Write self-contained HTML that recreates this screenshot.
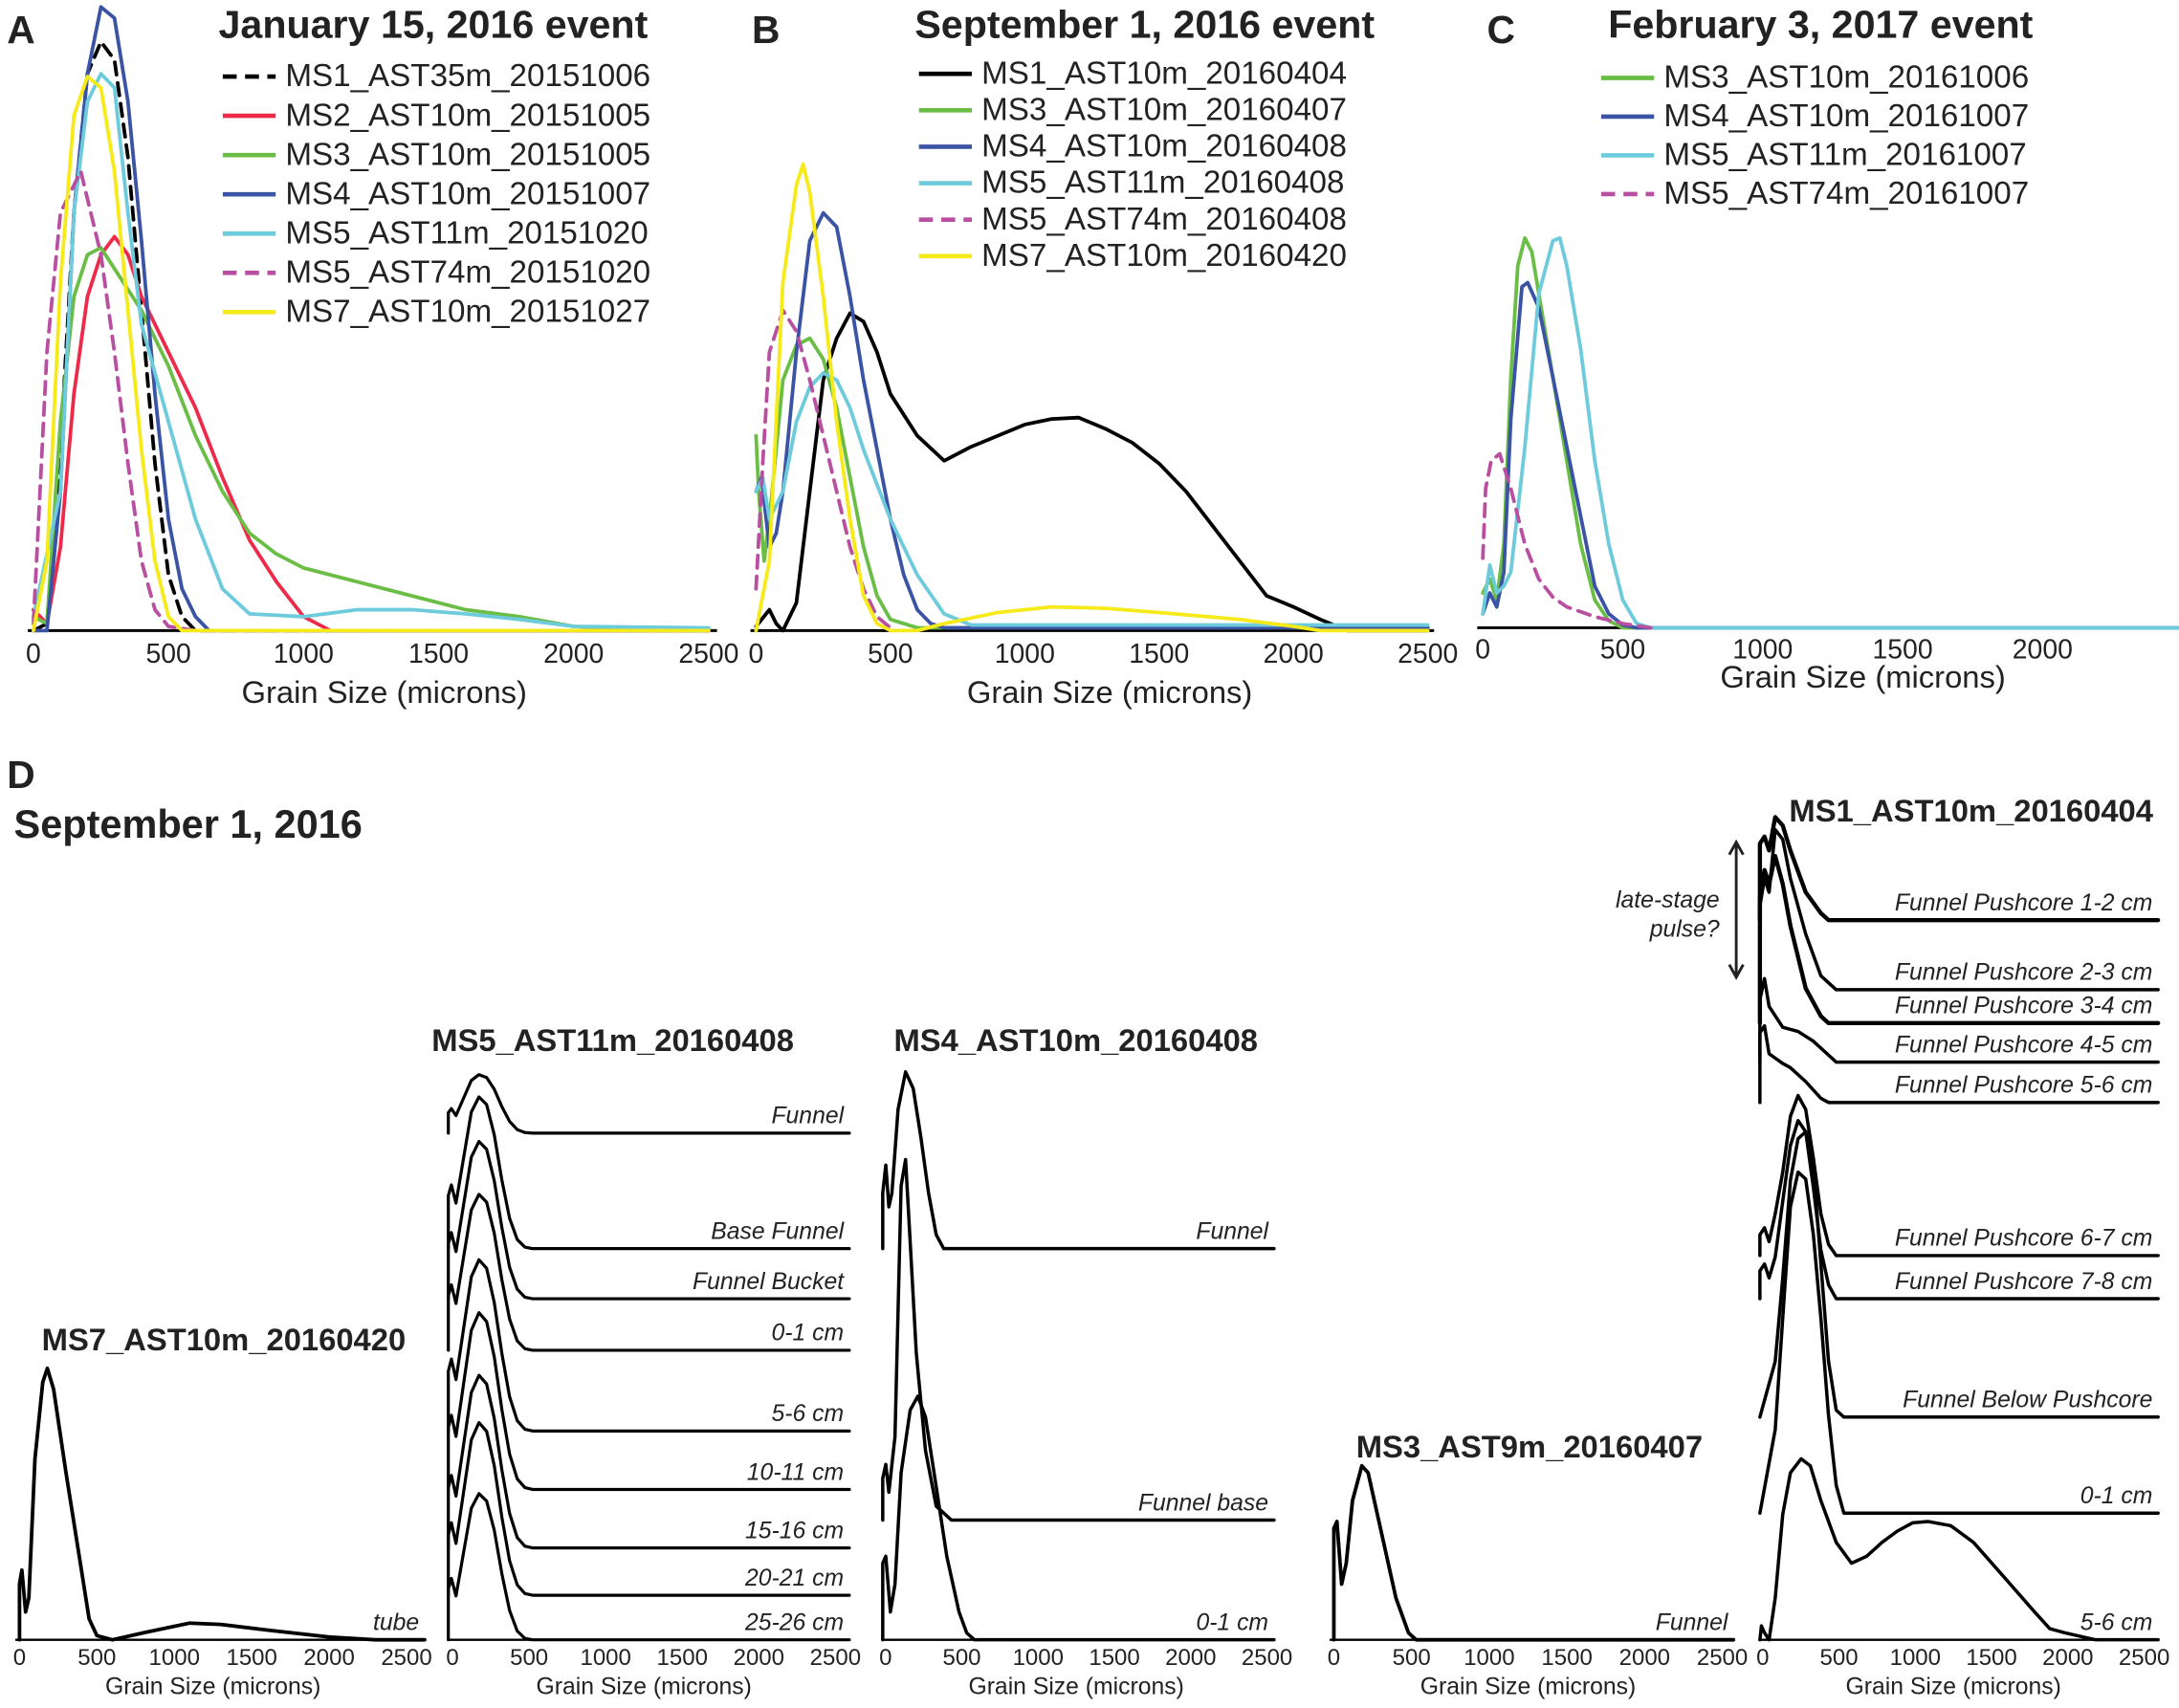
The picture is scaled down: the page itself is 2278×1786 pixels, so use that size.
<!DOCTYPE html>
<html><head><meta charset="utf-8">
<style>html,body{margin:0;padding:0;background:#fff}svg{display:block}text{font-family:"Liberation Sans",Arial,sans-serif}</style>
</head><body>
<svg id="fig" xmlns="http://www.w3.org/2000/svg" width="2278" height="1786" viewBox="0 0 1565 1227">
<rect width="1565" height="1227" fill="#fff"/>
<g id="layer"></g>
</svg>
<script>
// ---------- Panel A data (grain microns, relative frequency px) ----------
const aNames=["MS1_AST35m_20151006","MS2_AST10m_20151005","MS3_AST10m_20151005","MS4_AST10m_20151007","MS5_AST11m_20151020","MS5_AST74m_20151020","MS7_AST10m_20151027"];
const aColors=["#000","#ee2a4a","#6abd45","#3a53a4","#6dcbdc","#b94fa0","#f6ea1a"];
const aDash=[1,0,0,0,0,1,0];
const aMS1=[[0,0],[50,5],[100,130],[150,300],[200,400],[250,423],[300,410],[350,340],[400,230],[450,120],[500,40],[550,10],[600,0],[2500,0]];
const aMS2=[[0,15],[50,5],[100,60],[150,170],[200,240],[250,270],[300,283],[350,270],[400,240],[500,200],[600,160],[700,110],[800,65],[900,35],[1000,10],[1100,0],[2500,0]];
const aMS3=[[0,10],[50,5],[100,150],[150,240],[200,270],[250,275],[300,260],[400,230],[500,190],[600,140],[700,100],[800,70],[900,55],[1000,45],[1200,35],[1400,25],[1600,15],[1800,10],[2000,3],[2200,1],[2500,0]];
const aMS4=[[0,0],[50,0],[100,100],[150,300],[200,400],[250,448],[300,440],[350,380],[400,280],[450,170],[500,80],[550,30],[600,10],[650,0],[2500,0]];
const aMS5=[[0,10],[100,100],[150,300],[200,380],[250,400],[300,390],[350,300],[400,220],[500,150],[600,80],[700,30],[800,12],[1000,10],[1200,15],[1400,15],[1600,12],[1800,8],[2000,3],[2500,2]];
const aMS5b=[[0,5],[50,200],[100,300],[175,330],[250,270],[300,200],[350,120],[400,50],[450,15],[500,3],[600,0],[2500,0]];
const aMS7=[[0,0],[50,50],[100,250],[150,370],[200,398],[250,390],[300,330],[350,230],[400,130],[450,50],[500,10],[550,0],[2500,0]];
// ---------- Panel B data ----------
const bNames=["MS1_AST10m_20160404","MS3_AST10m_20160407","MS4_AST10m_20160408","MS5_AST11m_20160408","MS5_AST74m_20160408","MS7_AST10m_20160420"];
const bColors=["#000","#6abd45","#3a53a4","#6dcbdc","#b94fa0","#f6ea1a"];
const bDash=[0,0,0,0,1,0];
const bMS1=[[0,3],[50,15],[75,5],[100,0],[150,20],[200,100],[250,180],[300,210],[350,228],[400,222],[450,200],[500,170],[600,140],[700,122],[800,132],[900,140],[1000,148],[1100,152],[1200,153],[1300,145],[1400,135],[1500,120],[1600,100],[1700,75],[1800,50],[1900,25],[2000,17],[2100,8],[2200,0],[2500,0]];
const bMS3=[[0,140],[10,100],[30,50],[50,80],[100,180],[150,205],[200,210],[250,195],[300,160],[350,110],[400,60],[450,25],[500,8],[600,2],[2500,2]];
const bMS4=[[0,100],[20,110],[50,60],[75,70],[100,100],[150,200],[200,280],[250,300],[300,290],[350,240],[400,180],[450,130],[500,80],[550,40],[600,15],[650,5],[700,2],[2500,2]];
const bMS5=[[0,100],[25,110],[50,80],[100,100],[150,150],[200,175],[250,185],[300,180],[350,160],[400,130],[500,80],[600,40],[700,12],[800,4],[2500,4]];
const bMS5b=[[0,30],[25,120],[50,200],[100,230],[150,215],[200,180],[250,140],[300,100],[350,60],[400,30],[450,10],[500,2]];
const bMS7=[[0,0],[50,50],[100,250],[150,320],[175,335],[200,315],[250,240],[300,150],[350,80],[400,25],[450,5],[500,0],[600,0],[700,5],[900,13],[1100,17],[1300,16],[1500,13],[1800,8],[2000,3],[2100,0],[2500,0]];
// ---------- Panel C data ----------
const cNames=["MS3_AST10m_20161006","MS4_AST10m_20161007","MS5_AST11m_20161007","MS5_AST74m_20161007"];
const cColors=["#6abd45","#3a53a4","#6dcbdc","#b94fa0"];
const cDash=[0,0,0,1];
const cMS3=[[0,25],[25,35],[50,20],[75,60],[100,180],[125,260],[150,280],[175,270],[200,240],[250,180],[300,120],[350,60],[400,20],[450,5],[500,0],[2500,0]];
const cMS4=[[0,10],[25,25],[50,15],[75,40],[100,150],[140,245],[160,248],[200,230],[250,180],[300,130],[350,80],[400,30],[450,10],[500,2],[550,0],[2500,0]];
const cMS5=[[0,10],[25,45],[50,25],[75,30],[100,40],[150,130],[200,240],[250,278],[275,280],[300,260],[350,200],[400,120],[450,60],[500,20],[550,3],[600,0],[2500,0]];
const cMS5b=[[0,50],[10,100],[30,120],[60,125],[100,100],[150,60],[200,35],[250,22],[300,15],[400,8],[500,3],[600,0]];
const tickVals=[0,500,1000,1500,2000,2500];
const tickValsC=[0,500,1000,1500,2000];
// ---------- Panel D data ----------
const d7Curve=[[0,0],[0,40],[15,50],[40,20],[60,30],[100,130],[150,185],[180,195],[220,180],[300,120],[400,50],[450,15],[500,3],[600,0],[800,5],[1100,12],[1300,11],[1600,7],[2000,2],[2300,0]];
const d5Labels=["Funnel","Base Funnel","Funnel Bucket","0-1 cm","5-6 cm","10-11 cm","15-16 cm","20-21 cm","25-26 cm"];
const d5Baselines=[814,897,933,970,1028,1070,1112,1146,1178];
const d5Peaks=[42,109,113,112,123,127,124,124,105];
const d5Shape=[[0,0],[0,0.35],[20,0.42],[50,0.3],[100,0.6],[150,0.9],[200,1],[250,0.95],[300,0.75],[350,0.45],[400,0.2],[450,0.06],[500,0.01],[550,0]];
const d4Labels=["Funnel","Funnel base","0-1 cm"];
const d4Baselines=[897,1092,1178];
const d4Funnel=[[0,0],[0,40],[20,60],[40,30],[60,40],[100,100],[150,127],[200,115],[250,80],[300,40],[350,10],[400,0]];
const d4Base=[[0,0],[0,30],[20,40],[40,20],[80,60],[100,150],[120,240],[150,259],[180,200],[220,120],[280,50],[350,10],[450,0]];
const d4Core=[[0,0],[0,55],[20,60],[50,20],[80,40],[120,120],[180,165],[230,175],[280,160],[350,110],[420,60],[500,20],[550,5],[600,0]];
const d3Curve=[[0,0],[0,80],[20,85],[50,40],[80,55],[120,100],[180,125],[220,120],[300,80],[400,30],[480,5],[530,0]];
const d1Labels=["Funnel Pushcore 1-2 cm","Funnel Pushcore 2-3 cm","Funnel Pushcore 3-4 cm","Funnel Pushcore 4-5 cm","Funnel Pushcore 5-6 cm","Funnel Pushcore 6-7 cm","Funnel Pushcore 7-8 cm","Funnel Below Pushcore","0-1 cm","5-6 cm"];
const d1Baselines=[661,711,735,763,792,902,933,1018,1087,1178];
const d1c0=[[0,0],[0,55],[30,60],[60,50],[100,74],[150,68],[200,50],[300,20],[400,5],[450,0]];
const d1c1=[[0,0],[0,60],[30,80],[60,70],[100,115],[150,108],[200,80],[300,40],[400,10],[500,0]];
const d1c2=[[0,0],[0,90],[30,110],[60,100],[100,120],[150,100],[200,70],[300,25],[400,5],[450,0]];
const d1c3=[[0,0],[0,45],[30,60],[60,40],[150,25],[250,22],[350,15],[450,5],[500,0]];
const d1c4=[[0,0],[0,50],[30,55],[60,35],[150,28],[200,25],[300,15],[400,3],[450,0]];
const d1c5=[[0,0],[0,15],[30,20],[60,10],[100,30],[150,60],[200,100],[250,115],[300,105],[350,70],[400,30],[450,8],[500,0]];
const d1c6=[[0,0],[0,20],[30,25],[60,15],[100,30],[150,70],[200,110],[250,128],[300,120],[350,80],[400,35],[450,10],[500,0]];
const d1c7=[[0,0],[100,40],[150,100],[200,170],[250,200],[300,205],[350,180],[400,110],[450,40],[500,5],[550,0]];
const d1c8=[[0,0],[100,60],[150,140],[200,220],[250,245],[300,240],[350,200],[400,140],[450,70],[500,20],[550,0]];
const d1c9=[[0,0],[10,10],[30,5],[60,0],[100,30],[150,90],[200,120],[270,130],[330,125],[400,100],[500,70],[600,55],[700,60],[800,70],[900,78],[1000,84],[1100,85],[1250,82],[1400,70],[1600,45],[1800,20],[1900,8],[2000,5],[2200,0]];

const NS="http://www.w3.org/2000/svg";
const L=document.getElementById('layer');
function mk(tag,attrs,parent){const e=document.createElementNS(NS,tag);for(const k in attrs)e.setAttribute(k,attrs[k]);(parent||L).appendChild(e);return e;}
function txt(s,x,y,size,opts,name){opts=opts||{};const t=mk('text',{x:x,y:y,'font-size':size,fill:'#222','font-weight':opts.bold?'bold':'normal','font-style':opts.italic?'italic':'normal','text-anchor':opts.anchor||'start'});t.textContent=s;


return t;}
function axis(x0,pxPerMicron,base,scaleY){return {x:g=>x0+g*pxPerMicron,y:v=>base-v*scaleY};}
function line(pts,ax,color,w,dash,name){const d=pts.map((p,i)=>(i?'L':'M')+ax.x(p[0]).toFixed(1)+' '+ax.y(p[1]).toFixed(1)).join(' ');
const e=mk('path',{d:d,fill:'none',stroke:color,'stroke-width':w,'stroke-linejoin':'round','stroke-linecap':'round'});
if(dash)e.setAttribute('stroke-dasharray','9 6');


return e;}

function topPanel(x0,ppm,base,series,names,colors,dashes,ticks,axEnd,legX,legY,legStep,title,titleX,letter,letterX,titleLabelX,tickY,atY){
  const ax=axis(x0,ppm,base,1);
  const a=mk('line',{x1:x0-4,y1:base,x2:axEnd,y2:base,stroke:'#000','stroke-width':2});
  
  
  ticks.forEach(t=>txt(String(t),ax.x(t),tickY,19.5,{anchor:'middle'},'x-tick-label'));
  txt('Grain Size (microns)',titleLabelX,atY,22.5,{anchor:'middle'},'x-axis-title');
  txt(letter,letterX,31,28,{bold:true},'panel-letter');
  txt(title,titleX,27,28.3,{bold:true},'panel-title');
  series.forEach((s,i)=>line(s,ax,colors[i],2.6,dashes[i],'series-'+names[i].toLowerCase()));
  names.forEach((n,i)=>{const y=legY+i*legStep;
    const l=mk('line',{x1:legX,y1:y-7,x2:legX+38,y2:y-7,stroke:colors[i],'stroke-width':3.2});
    if(dashes[i])l.setAttribute('stroke-dasharray','10 6');
    
    
    txt(n,legX+45,y,22.8,{},'legend-entry');});
}
topPanel(24,0.194,453,[aMS1,aMS2,aMS3,aMS4,aMS5,aMS5b,aMS7],aNames,aColors,aDash,tickVals,515,160,62,28.2,'January 15, 2016 event',157,'A',5,276,476,505);
topPanel(543,0.193,453,[bMS1,bMS3,bMS4,bMS5,bMS5b,bMS7],bNames,bColors,bDash,tickVals,1030,660,60,26.2,'September 1, 2016 event',657,'B',540,797,476,505);
topPanel(1065,0.201,451,[cMS3,cMS4,cMS5,cMS5b],cNames,cColors,cDash,tickValsC,1560,1150,63,27.8,'February 3, 2017 event',1155,'C',1068,1338,473,494);

// ---------- Panel D ----------
txt('D',5,566,28,{bold:true},'panel-letter');
txt('September 1, 2016',10,602,28.5,{bold:true},'panel-title');
function dAxis(x0,x1,name,nameX,nameY){
  const ppm=(x1-x0)/2500;
  const a=mk('line',{x1:x0-3,y1:1178,x2:x1+6,y2:1178,stroke:'#000','stroke-width':1.6});
  
  
  tickVals.forEach(t=>txt(String(t),x0+t*ppm,1196,16.5,{anchor:'middle'},'x-tick-label'));
  txt('Grain Size (microns)',(x0+x1)/2,1217,17,{anchor:'middle'},'x-axis-title');
  txt(name,nameX,nameY,22.5,{bold:true},'subplot-title');
  return ppm;
}
function stackCurve(x0,ppm,base,pts,right,label,w){
  const ax=axis(x0,ppm,base,1);
  line(pts.concat([[ (right-x0)/ppm ,0]]),ax,'#000',w,0,'curve-'+label.toLowerCase().replace(/[^a-z0-9]+/g,'-'));
  txt(label,right-4,base-7,17,{italic:true,anchor:'end'},'curve-label');
}
// MS7
let p=dAxis(14,292,'MS7_AST10m_20160420',30,970);
stackCurve(14,p,1178,d7Curve,305,'tube',2.6);
// MS5
p=dAxis(325,600,'MS5_AST11m_20160408',310,755);
d5Labels.forEach((lab,i)=>stackCurve(322,p,d5Baselines[i],d5Shape.map(q=>[q[0],q[1]*d5Peaks[i]]),610,lab,2.2));
// MS4
p=dAxis(636,910,'MS4_AST10m_20160408',642,755);
[d4Funnel,d4Base,d4Core].forEach((c,i)=>stackCurve(634,p,d4Baselines[i],c,915,d4Labels[i],2.4));
// MS3
p=dAxis(958,1237,'MS3_AST9m_20160407',974,1047);
stackCurve(958,p,1178,d3Curve,1245,'Funnel',2.6);
// MS1
p=dAxis(1266,1540,'MS1_AST10m_20160404',1285,590);
[d1c0,d1c1,d1c2,d1c3,d1c4,d1c5,d1c6,d1c7,d1c8,d1c9].forEach((c,i)=>stackCurve(1264,p,d1Baselines[i],c,1550,d1Labels[i],(i==0||i==2)?3:2.4));
// late-stage arrow
const ar=mk('path',{d:'M1247 607 L1247 700 M1242 614 L1247 605 L1252 614 M1242 693 L1247 702 L1252 693',stroke:'#222','stroke-width':2,fill:'none'});


txt('late-stage',1235,652,17,{italic:true,anchor:'end'},'annotation');
txt('pulse?',1235,673,17,{italic:true,anchor:'end'},'annotation');
</script>
</body></html>
